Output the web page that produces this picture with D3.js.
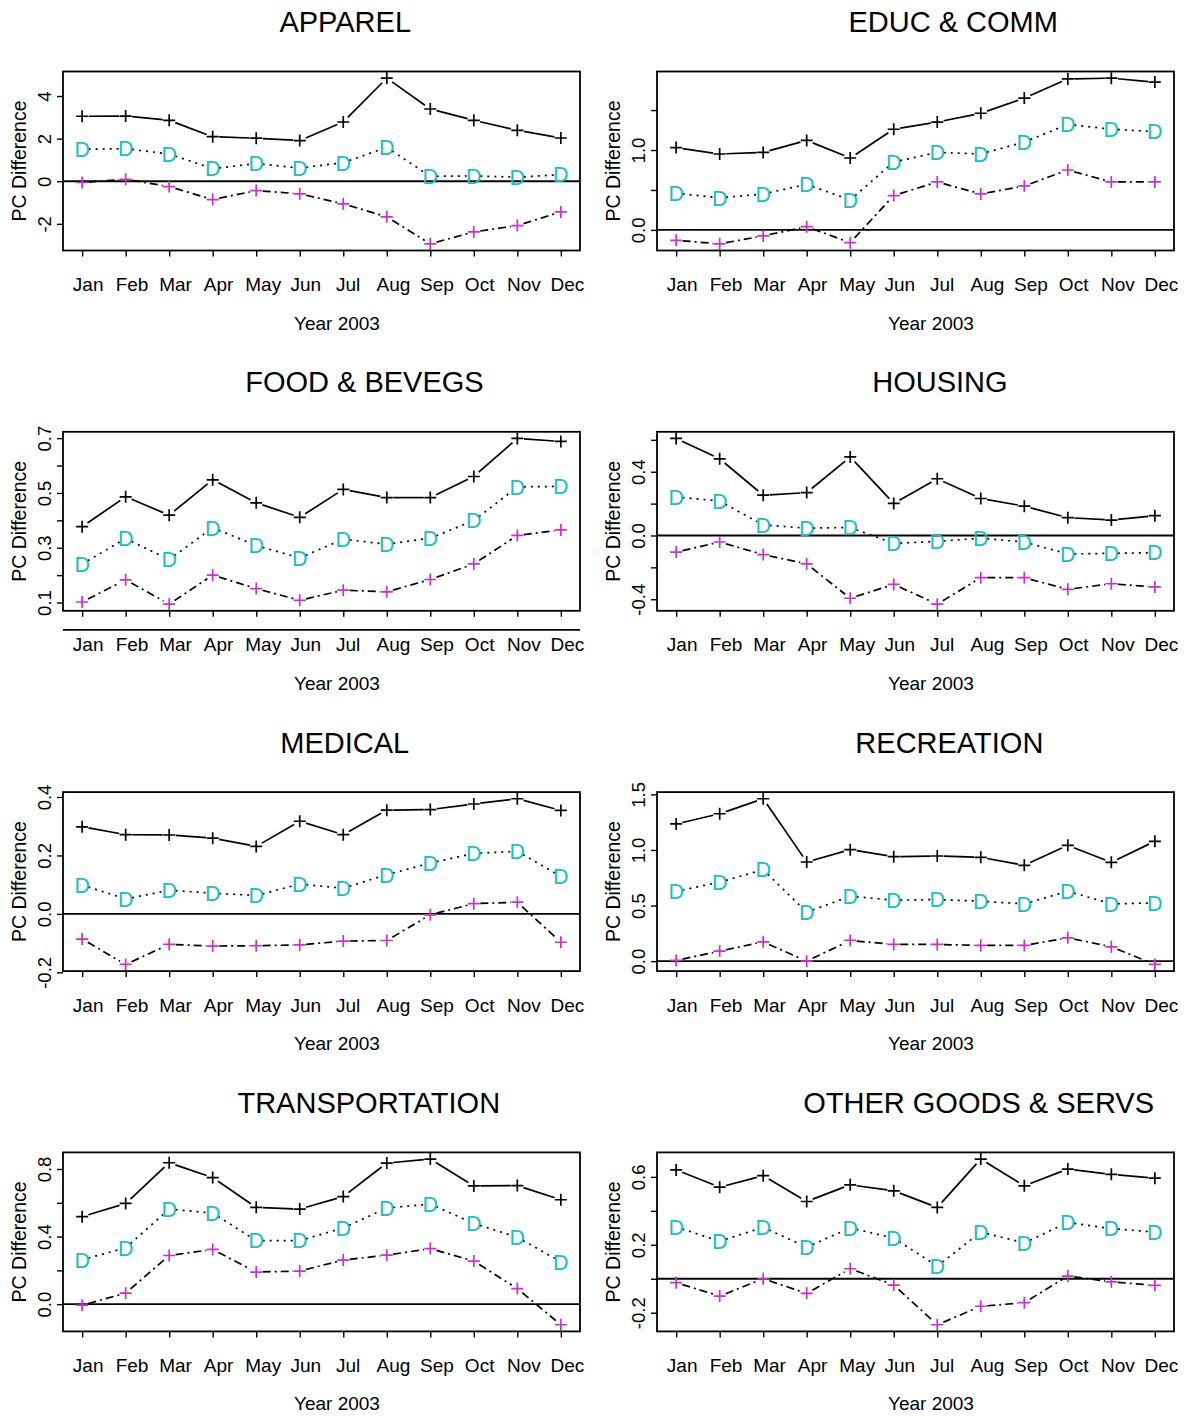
<!DOCTYPE html>
<html>
<head>
<meta charset="utf-8">
<script src="https://cdn.jsdelivr.net/npm/d3@7"></script>
<style>
  html, body { margin: 0; padding: 0; background: #fff; }
  svg { display: block; font-family: "Liberation Sans", Arial, Helvetica, sans-serif; }
</style>
</head>
<body>
<svg id="chart" width="1186" height="1416"></svg>
<script>
// Month categories shared by every panel
const months = ["Jan", "Feb", "Mar", "Apr", "May", "Jun", "Jul", "Aug", "Sep", "Oct", "Nov", "Dec"];
const xTitle = "Year 2003";
const yTitle = "PC Difference";

// Upper bound (+), difference (D) and lower bound (+) per expenditure group
const apparelHi  = [3.05, 3.06, 2.86, 2.09, 2.02, 1.91, 2.78, 4.84, 3.39, 2.86, 2.39, 2.03];
const apparelEst = [1.50, 1.53, 1.28, 0.59, 0.83, 0.62, 0.87, 1.59, 0.23, 0.25, 0.19, 0.31];
const apparelLo  = [-0.06, 0.09, -0.25, -0.86, -0.44, -0.59, -1.06, -1.67, -2.94, -2.38, -2.08, -1.44];

const educHi  = [1.03, 0.95, 0.97, 1.12, 0.90, 1.26, 1.35, 1.46, 1.65, 1.89, 1.90, 1.85];
const educEst = [0.46, 0.40, 0.45, 0.57, 0.375, 0.85, 0.97, 0.95, 1.10, 1.32, 1.26, 1.23];
const educLo  = [-0.13, -0.175, -0.075, 0.04, -0.16, 0.43, 0.60, 0.45, 0.55, 0.75, 0.60, 0.60];

const foodHi  = [0.377, 0.486, 0.419, 0.548, 0.464, 0.411, 0.513, 0.483, 0.483, 0.56, 0.699, 0.688];
const foodEst = [0.241, 0.333, 0.257, 0.373, 0.308, 0.263, 0.331, 0.313, 0.335, 0.399, 0.522, 0.524];
const foodLo  = [0.102, 0.183, 0.094, 0.2, 0.151, 0.108, 0.145, 0.139, 0.184, 0.241, 0.345, 0.365];

const housingHi  = [0.609, 0.481, 0.253, 0.269, 0.493, 0.201, 0.356, 0.232, 0.184, 0.112, 0.097, 0.124];
const housingEst = [0.242, 0.216, 0.066, 0.046, 0.05, -0.05, -0.037, -0.017, -0.041, -0.116, -0.112, -0.108];
const housingLo  = [-0.104, -0.041, -0.12, -0.178, -0.394, -0.307, -0.431, -0.265, -0.265, -0.338, -0.303, -0.323];

const medicalHi  = [0.298, 0.271, 0.27, 0.259, 0.231, 0.317, 0.271, 0.355, 0.357, 0.376, 0.394, 0.354];
const medicalEst = [0.099, 0.051, 0.081, 0.071, 0.063, 0.102, 0.088, 0.134, 0.174, 0.207, 0.214, 0.128];
const medicalLo  = [-0.086, -0.173, -0.104, -0.11, -0.109, -0.106, -0.093, -0.091, -0.003, 0.035, 0.04, -0.097];

const recreationHi  = [1.234, 1.326, 1.461, 0.892, 1.003, 0.94, 0.946, 0.934, 0.862, 1.042, 0.889, 1.078];
const recreationEst = [0.629, 0.71, 0.823, 0.44, 0.584, 0.548, 0.554, 0.539, 0.515, 0.629, 0.515, 0.524];
const recreationLo  = [0.006, 0.09, 0.174, 0.0, 0.186, 0.15, 0.15, 0.141, 0.141, 0.21, 0.129, -0.03];

const transportHi  = [0.518, 0.596, 0.837, 0.749, 0.573, 0.563, 0.637, 0.835, 0.859, 0.7, 0.702, 0.618];
const transportEst = [0.263, 0.333, 0.563, 0.539, 0.376, 0.376, 0.451, 0.569, 0.592, 0.478, 0.396, 0.251];
const transportLo  = [-0.006, 0.065, 0.288, 0.324, 0.19, 0.196, 0.261, 0.29, 0.329, 0.255, 0.092, -0.122];

const otherHi  = [0.641, 0.539, 0.607, 0.455, 0.553, 0.518, 0.42, 0.705, 0.547, 0.646, 0.615, 0.592];
const otherEst = [0.305, 0.221, 0.303, 0.186, 0.299, 0.24, 0.074, 0.275, 0.211, 0.332, 0.295, 0.275];
const otherLo  = [-0.023, -0.102, 0.0, -0.086, 0.059, -0.037, -0.271, -0.162, -0.141, 0.016, -0.018, -0.039];

// Panel titles and y-axis ticks (labels left blank where they are skipped)
const titles = ["APPAREL", "EDUC & COMM", "FOOD & BEVEGS", "HOUSING",
                "MEDICAL", "RECREATION", "TRANSPORTATION", "OTHER GOODS & SERVS"];
const apparelTicks = [-2, 0, 2, 4];
const apparelTickLabels = ["-2", "0", "2", "4"];
const educTicks = [0, 0.5, 1, 1.5];
const educTickLabels = ["0.0", "", "1.0", ""];
const foodTicks = [0.1, 0.2, 0.3, 0.4, 0.5, 0.6, 0.7];
const foodTickLabels = ["0.1", "", "0.3", "", "0.5", "", "0.7"];
const housingTicks = [-0.4, -0.2, 0, 0.2, 0.4, 0.6];
const housingTickLabels = ["-0.4", "", "0.0", "", "0.4", ""];
const medicalTicks = [-0.2, 0, 0.2, 0.4];
const medicalTickLabels = ["-0.2", "0.0", "0.2", "0.4"];
const recreationTicks = [0, 0.5, 1, 1.5];
const recreationTickLabels = ["0.0", "0.5", "1.0", "1.5"];
const transportTicks = [0, 0.2, 0.4, 0.6, 0.8];
const transportTickLabels = ["0.0", "", "0.4", "", "0.8"];
const otherTicks = [-0.2, 0, 0.2, 0.4, 0.6];
const otherTickLabels = ["-0.2", "", "0.2", "", "0.6"];

const panels = [
  { title: titles[0], hi: apparelHi, est: apparelEst, lo: apparelLo, ticks: apparelTicks, labels: apparelTickLabels },
  { title: titles[1], hi: educHi, est: educEst, lo: educLo, ticks: educTicks, labels: educTickLabels },
  { title: titles[2], hi: foodHi, est: foodEst, lo: foodLo, ticks: foodTicks, labels: foodTickLabels },
  { title: titles[3], hi: housingHi, est: housingEst, lo: housingLo, ticks: housingTicks, labels: housingTickLabels },
  { title: titles[4], hi: medicalHi, est: medicalEst, lo: medicalLo, ticks: medicalTicks, labels: medicalTickLabels },
  { title: titles[5], hi: recreationHi, est: recreationEst, lo: recreationLo, ticks: recreationTicks, labels: recreationTickLabels },
  { title: titles[6], hi: transportHi, est: transportEst, lo: transportLo, ticks: transportTicks, labels: transportTickLabels },
  { title: titles[7], hi: otherHi, est: otherEst, lo: otherLo, ticks: otherTicks, labels: otherTickLabels }
];

// Layout
const colLeft = [63, 657];
const boxW = 517, boxH = 179;
const rowTop = r => 71.5 + 360.3 * r;
const CYAN = "#17BFC6", MAGENTA = "#CC2FCC";
const GAP = 6.5;        // space left around each marker by the connecting segments
const SHIFT = 0.18;     // horizontal text sits slightly right of its anchor

const svg = d3.select("#chart");

function shiftText(sel) {
  sel.each(function () {
    const t = d3.select(this);
    const w = this.getComputedTextLength();
    t.attr("x", (+t.attr("x") || 0) + SHIFT * w);
  });
}

panels.forEach((p, i) => {
  const col = i % 2, row = Math.floor(i / 2);
  const left = colLeft[col], top = rowTop(row);
  const g = svg.append("g");

  const x = d3.scalePoint().domain(months).range([left, left + boxW]).padding(0.44);
  const all = p.hi.concat(p.est, p.lo);
  const lo = d3.min(all), hi = d3.max(all), pad = 0.04 * (hi - lo);
  const y = d3.scaleLinear().domain([lo - pad, hi + pad]).range([top + boxH, top]);

  // title
  g.append("text")
    .attr("x", left + boxW / 2).attr("y", top - 39.5)
    .attr("text-anchor", "middle").attr("font-size", 29).attr("fill", "#000")
    .text(p.title).call(shiftText);

  // zero reference line (not clipped to the box)
  g.append("line")
    .attr("x1", left).attr("x2", left + boxW)
    .attr("y1", y(0)).attr("y2", y(0))
    .attr("stroke", "#000").attr("stroke-width", 1.8);

  // x axis
  const xa = g.append("g").attr("transform", `translate(0,${top + boxH})`)
    .call(d3.axisBottom(x).tickSize(6).tickPadding(0));
  xa.select(".domain").remove();
  xa.selectAll("line").attr("stroke", "#000").attr("stroke-width", 1.4);
  xa.selectAll("text")
    .attr("y", 40.5).attr("dy", null).attr("x", 0)
    .attr("font-size", 19).attr("font-family", "Liberation Sans, Arial, sans-serif").attr("fill", "#000")
    .call(shiftText);

  // y axis
  const ya = g.append("g").attr("transform", `translate(${left},0)`)
    .call(d3.axisLeft(y).tickValues(p.ticks).tickSize(6).tickFormat((d, k) => p.labels[k]));
  ya.select(".domain").remove();
  ya.selectAll("line").attr("stroke", "#000").attr("stroke-width", 1.4);
  ya.selectAll("text")
    .attr("x", null).attr("dy", null)
    .attr("transform", "translate(-12.5,0) rotate(-90)")
    .attr("text-anchor", "middle")
    .attr("font-size", 18.5).attr("font-family", "Liberation Sans, Arial, sans-serif").attr("fill", "#000");

  // axis titles
  g.append("text")
    .attr("x", left + boxW / 2).attr("y", top + boxH + 79)
    .attr("text-anchor", "middle").attr("font-size", 19).attr("fill", "#000")
    .text(xTitle).call(shiftText);
  g.append("text")
    .attr("transform", `translate(${left - 37},${top + boxH / 2}) rotate(-90)`)
    .attr("text-anchor", "middle").attr("font-size", 19.5).attr("fill", "#000")
    .text(yTitle);

  // connecting segments with gaps around markers
  function segments(vals, dash) {
    const pts = vals.map((v, k) => [x(months[k]), y(v)]);
    const segs = d3.pairs(pts).map(([a, b]) => {
      const dx = b[0] - a[0], dy = b[1] - a[1], len = Math.hypot(dx, dy);
      if (len <= 2 * GAP) return null;
      const ux = dx / len, uy = dy / len;
      return [a[0] + ux * GAP, a[1] + uy * GAP, b[0] - ux * GAP, b[1] - uy * GAP];
    }).filter(Boolean);
    g.append("g").selectAll("line").data(segs).join("line")
      .attr("x1", d => d[0]).attr("y1", d => d[1])
      .attr("x2", d => d[2]).attr("y2", d => d[3])
      .attr("stroke", "#000").attr("stroke-width", 1.7)
      .attr("stroke-dasharray", dash);
  }
  segments(p.hi, null);
  segments(p.est, "2,5");
  segments(p.lo, "8,4,2,4");

  // markers
  function plus(vals, color) {
    const path = d3.path();
    vals.forEach((v, k) => {
      const cx = x(months[k]), cy = y(v), r = 6;
      path.moveTo(cx - r, cy); path.lineTo(cx + r, cy);
      path.moveTo(cx, cy - r); path.lineTo(cx, cy + r);
    });
    g.append("path").attr("d", path.toString())
      .attr("stroke", color).attr("stroke-width", 1.7).attr("fill", "none");
  }
  plus(p.hi, "#000");
  plus(p.lo, MAGENTA);
  g.append("g").selectAll("text").data(p.est).join("text")
    .attr("x", (d, k) => x(months[k])).attr("y", d => y(d) + 7.8)
    .attr("text-anchor", "middle").attr("font-size", 21.5).attr("fill", CYAN)
    .text("D");

  // plot frame
  g.append("rect")
    .attr("x", left).attr("y", top).attr("width", boxW).attr("height", boxH)
    .attr("fill", "none").attr("stroke", "#000").attr("stroke-width", 1.8);
});
</script>
</body>
</html>
